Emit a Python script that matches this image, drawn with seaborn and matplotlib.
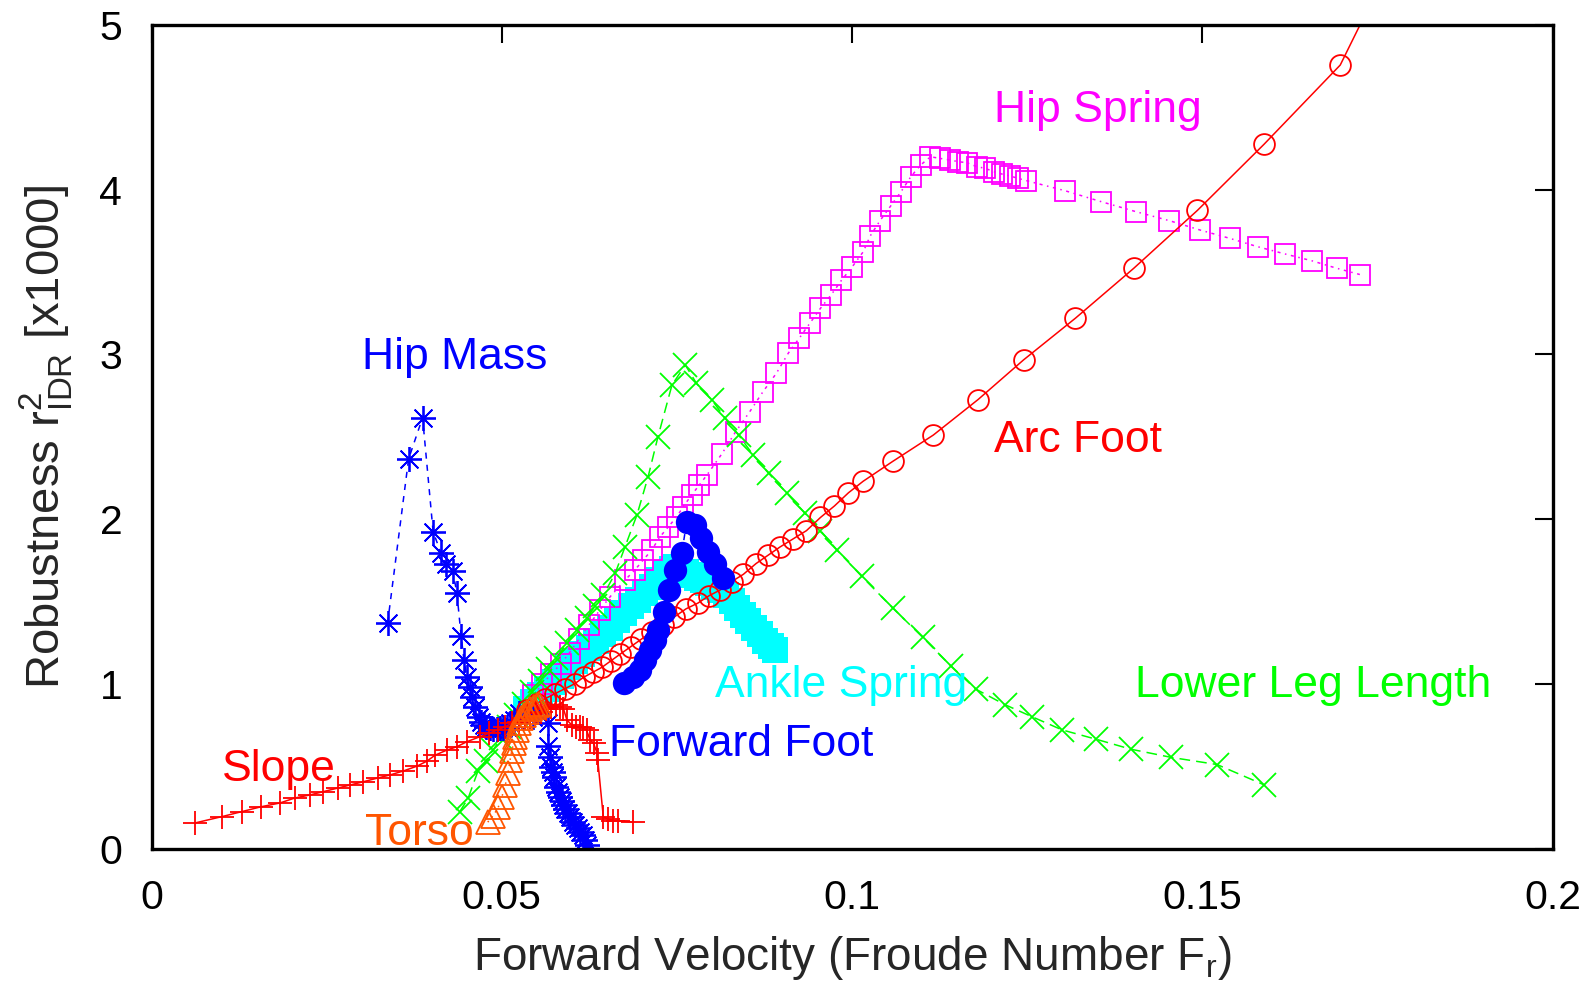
import matplotlib
matplotlib.use("Agg")
import matplotlib.pyplot as plt
import seaborn as sns

# ---- data ----
# Hip Spring (magenta open squares)
hs_x = [0.0545, 0.0558, 0.0571, 0.0584, 0.0597, 0.0610, 0.0625, 0.0640, 0.0655, 0.0676,
        0.0690, 0.0702, 0.0714, 0.0726, 0.0738, 0.0750, 0.0759, 0.0771, 0.0782, 0.0793,
        0.0814, 0.0834, 0.0854, 0.0873, 0.0892, 0.0909, 0.0925, 0.0940, 0.0955, 0.0970,
        0.0985, 0.1000, 0.1016, 0.1026, 0.1040, 0.1055, 0.1070, 0.1084, 0.1098, 0.1112,
        0.1126, 0.1140, 0.1152, 0.1164, 0.1178, 0.1190, 0.1202, 0.1214, 0.1226, 0.1237,
        0.1249, 0.1304, 0.1356, 0.1405, 0.1453, 0.1497, 0.1539, 0.1579, 0.1618, 0.1656,
        0.1692, 0.1725]
hs_y = [0.93, 1.00, 1.06, 1.12, 1.19, 1.27, 1.36, 1.448, 1.53, 1.63,
        1.691, 1.752, 1.812, 1.893, 1.954, 2.015, 2.075, 2.146, 2.207, 2.268,
        2.395, 2.531, 2.652, 2.774, 2.885, 3.007, 3.10, 3.19, 3.28, 3.36,
        3.45, 3.53, 3.623, 3.719, 3.812, 3.90, 3.988, 4.079, 4.15, 4.20,
        4.19, 4.18, 4.17, 4.164, 4.14, 4.13, 4.11, 4.095, 4.083, 4.069,
        4.055, 3.994, 3.927, 3.867, 3.812, 3.755, 3.705, 3.654, 3.61, 3.569,
        3.523, 3.485]

# Lower Leg Length (green crosses)
ll_x = [0.0440, 0.0452, 0.0466, 0.0477, 0.0488, 0.0499, 0.0510, 0.0521, 0.0532, 0.0543,
        0.0555, 0.0566, 0.0578, 0.0593, 0.0607, 0.0621, 0.0633, 0.0645, 0.0662, 0.0676,
        0.0693, 0.0709, 0.0723, 0.0743, 0.0762, 0.0778, 0.0800, 0.0819, 0.0838, 0.0859,
        0.0881, 0.0907, 0.0933, 0.0955, 0.0979, 0.1014, 0.1058, 0.1101, 0.1141, 0.1177,
        0.1218, 0.1257, 0.1300, 0.1348, 0.1398, 0.1456, 0.1521, 0.1588]
ll_y = [0.223, 0.305, 0.47, 0.53, 0.60, 0.67, 0.74, 0.81, 0.88, 0.95,
        1.02, 1.09, 1.155, 1.246, 1.327, 1.398, 1.47, 1.539, 1.671, 1.832,
        2.025, 2.258, 2.50, 2.814, 2.936, 2.824, 2.723, 2.612, 2.511, 2.389,
        2.278, 2.157, 2.035, 1.93, 1.81, 1.652, 1.461, 1.282, 1.109, 0.967,
        0.874, 0.80, 0.72, 0.664, 0.603, 0.553, 0.51, 0.387]

# Ankle Spring (cyan filled squares)
as_x = [0.0535, 0.0545, 0.0555, 0.0565, 0.0575, 0.0585, 0.0595, 0.0605, 0.0615, 0.0625,
        0.0635, 0.0645, 0.0655, 0.0665, 0.0675, 0.0685, 0.0695, 0.0705, 0.0715, 0.0725,
        0.0735, 0.0743, 0.0749, 0.0755, 0.0763, 0.0771, 0.0779, 0.0787, 0.0795, 0.0803,
        0.0812, 0.0820, 0.0828, 0.0836, 0.0844, 0.0852, 0.0860, 0.0868, 0.0876, 0.0884,
        0.0890]
as_y = [0.85, 0.89, 0.93, 0.97, 1.01, 1.05, 1.10, 1.14, 1.18, 1.22,
        1.26, 1.30, 1.34, 1.39, 1.43, 1.47, 1.51, 1.55, 1.59, 1.63,
        1.67, 1.70, 1.71, 1.69, 1.68, 1.66, 1.645, 1.63, 1.61, 1.59,
        1.57, 1.54, 1.50, 1.46, 1.42, 1.38, 1.34, 1.30, 1.26, 1.23,
        1.205]

# Hip Mass (blue asterisks)
hm_x = [0.0337, 0.0367, 0.0387, 0.0402, 0.0413, 0.0421, 0.0430, 0.0436, 0.0442, 0.0446,
        0.0450, 0.0454, 0.0457, 0.0462, 0.0467, 0.0471, 0.0474, 0.0478, 0.0483, 0.0488,
        0.0493, 0.0497, 0.0502, 0.0507, 0.0512, 0.0517, 0.0524, 0.0545, 0.0566, 0.0566,
        0.0569, 0.0571, 0.0573, 0.0575, 0.0578, 0.0580, 0.0583, 0.0586, 0.0588, 0.0591,
        0.0595, 0.0598, 0.0602, 0.0605, 0.0609, 0.0612, 0.0616, 0.0619, 0.0622]
hm_y = [1.367, 2.365, 2.616, 1.924, 1.796, 1.727, 1.687, 1.549, 1.29, 1.145,
        1.043, 0.98, 0.92, 0.86, 0.80, 0.77, 0.75, 0.74, 0.73, 0.725,
        0.725, 0.73, 0.73, 0.74, 0.76, 0.78, 0.82, 0.80, 0.76, 0.62,
        0.557, 0.497, 0.465, 0.436, 0.375, 0.345, 0.314, 0.29, 0.264, 0.24,
        0.214, 0.19, 0.163, 0.143, 0.123, 0.10, 0.082, 0.05, 0.02]

# Arc Foot (red open circles)
af_x = [0.0536, 0.0550, 0.0562, 0.0576, 0.0590, 0.0604, 0.0617, 0.0630, 0.0643, 0.0656,
        0.0669, 0.0684, 0.0699, 0.0714, 0.0730, 0.0746, 0.0763, 0.0780, 0.0796, 0.0812,
        0.0828, 0.0845, 0.0863, 0.0880, 0.0897, 0.0916, 0.0935, 0.0955, 0.0975, 0.0995,
        0.1016, 0.1058, 0.1116, 0.1180, 0.1245, 0.1319, 0.1402, 0.1493, 0.1588, 0.1697,
        0.1760]
af_y = [0.84, 0.88, 0.91, 0.94, 0.97, 1.00, 1.04, 1.07, 1.10, 1.14,
        1.18, 1.225, 1.27, 1.315, 1.36, 1.405, 1.455, 1.49, 1.535, 1.57,
        1.62, 1.665, 1.73, 1.78, 1.83, 1.88, 1.93, 2.01, 2.08, 2.16,
        2.23, 2.35, 2.51, 2.726, 2.967, 3.22, 3.522, 3.874, 4.275, 4.757,
        5.3]

# Forward Foot (blue filled circles)
ff_x = [0.0674, 0.0688, 0.0697, 0.0705, 0.0712, 0.0719, 0.0723, 0.0731, 0.0739, 0.0747,
        0.0757, 0.0764, 0.0776, 0.0785, 0.0795, 0.0804, 0.0816]
ff_y = [1.003, 1.043, 1.084, 1.145, 1.205, 1.266, 1.327, 1.438, 1.57, 1.69,
        1.792, 1.984, 1.964, 1.883, 1.802, 1.73, 1.64]

# Slope (red plus)
sl_x = [0.0062, 0.0100, 0.0129, 0.0157, 0.0183, 0.0205, 0.0226, 0.0245, 0.0266, 0.0283,
        0.0302, 0.0323, 0.0340, 0.0359, 0.0379, 0.0393, 0.0405, 0.0422, 0.0436, 0.0450,
        0.0469, 0.0482, 0.0494, 0.0505, 0.0515, 0.0524, 0.0533, 0.0541, 0.0549, 0.0556,
        0.0563, 0.0570, 0.0577, 0.0583, 0.0588, 0.0593, 0.0600, 0.0606, 0.0612, 0.0616,
        0.0621, 0.0626, 0.0631, 0.0636, 0.0637, 0.0645, 0.0652, 0.0659, 0.0666, 0.0687]
sl_y = [0.155, 0.193, 0.224, 0.254, 0.276, 0.307, 0.325, 0.345, 0.367, 0.385,
        0.405, 0.428, 0.446, 0.47, 0.50, 0.53, 0.567, 0.598, 0.618, 0.648,
        0.679, 0.70, 0.72, 0.74, 0.76, 0.77, 0.79, 0.80, 0.82, 0.83,
        0.85, 0.86, 0.87, 0.86, 0.85, 0.78, 0.75, 0.74, 0.74, 0.73,
        0.72, 0.66, 0.64, 0.58, 0.54, 0.19, 0.18, 0.17, 0.17, 0.16]

# Torso (orange open triangles)
to_x = [0.0480, 0.0488, 0.0495, 0.0500, 0.0505, 0.0509, 0.0512, 0.0514, 0.0517, 0.0519,
        0.0522, 0.0525, 0.0528, 0.0532, 0.0536, 0.0541, 0.0546, 0.0550, 0.0553]
to_y = [0.16, 0.20, 0.25, 0.31, 0.385, 0.46, 0.54, 0.59, 0.64, 0.68,
        0.72, 0.76, 0.79, 0.81, 0.83, 0.85, 0.86, 0.87, 0.88]

# label text, colour, position (data coords)
labels = ["Hip Spring", "Hip Mass", "Arc Foot", "Ankle Spring",
          "Lower Leg Length", "Forward Foot", "Slope", "Torso"]
label_colors = ["#ff00ff", "#0000ff", "#ff0000", "#00ffff",
                "#00ff00", "#0000ff", "#ff0000", "#ff5500"]
label_pos = [(0.1351, 4.48), (0.0433, 2.98), (0.1323, 2.48), (0.0984, 0.99),
             (0.1658, 0.99), (0.0842, 0.63), (0.0182, 0.48), (0.0382, 0.09)]

xticks = [0, 0.05, 0.1, 0.15, 0.2]
xtick_labels = ["0", "0.05", "0.1", "0.15", "0.2"]
yticks = [0, 1, 2, 3, 4, 5]

# ---- style ----
sns.set_style("white")
plt.rcParams['font.family'] = ['Liberation Sans', 'DejaVu Sans']
plt.rcParams['mathtext.fontset'] = 'custom'
plt.rcParams['mathtext.rm'] = 'Liberation Sans'
plt.rcParams['mathtext.it'] = 'Liberation Sans:italic'

W, H = 1594, 985
fig = plt.figure(figsize=(W / 100, H / 100), dpi=100)
ax = fig.add_axes([151.5 / W, 1 - 848.5 / H, 1401 / W, 823.5 / H])

MS = 17     # marker size (pt) ~ 23 px
LW = 1.1


def series(x, y, color, marker, ls, mfc="none", ms=MS, mew=1.3):
    sns.lineplot(x=x, y=y, ax=ax, sort=False, estimator=None,
                 color=color, linestyle=ls, linewidth=LW,
                 marker=marker, markersize=ms, markeredgewidth=mew,
                 markeredgecolor=color, markerfacecolor=mfc)


series(hs_x, hs_y, "#ff00ff", "s", (0, (2, 3, 1, 3)), ms=15)
series(ll_x, ll_y, "#00ff00", "x", (0, (7, 4)))
sns.scatterplot(x=as_x, y=as_y, ax=ax, marker="s", s=18.5 ** 2,
                color="#00ffff", linewidth=0)
series(hm_x, hm_y, "#0000ff", (8, 2, 0), (0, (4, 4)), ms=18)
series(af_x, af_y, "#ff0000", "o", "-", ms=15)
series(ff_x, ff_y, "#0000ff", "o", (0, (4, 4)), mfc="#0000ff", ms=15.5)
series(sl_x, sl_y, "#ff0000", "+", "-")
series(to_x, to_y, "#ff5500", "^", (0, (1, 3)))

for txt, c, (px, py) in zip(labels, label_colors, label_pos):
    ax.text(px, py, txt, color=c, fontsize=32, ha="center", va="center")

ax.set_xlim(0, 0.2)
ax.set_ylim(0, 5)
ax.set_xticks(xticks)
ax.set_xticklabels(xtick_labels)
ax.set_yticks(yticks)
ax.tick_params(direction="in", length=13, width=1.5, top=True, right=True,
               labelsize=29.5, colors="black")
ax.tick_params(axis="x", pad=22)
ax.tick_params(axis="y", pad=21)
for sp in ax.spines.values():
    sp.set_visible(True)
    sp.set_color("black")
    sp.set_linewidth(2.4)

ax.set_xlabel(r"Forward Velocity (Froude Number F$_{\mathrm{r}}$)", fontsize=33,
              va="center")
ax.xaxis.set_label_coords(0.5, (848.5 - 958) / 823.5)
ax.set_ylabel(r"Robustness r$_{\mathrm{IDR}}^{\mathrm{2}}$ [x1000]", fontsize=34,
              va="center", ha="center")
ax.yaxis.set_label_coords((46 - 151.5) / 1401, 0.5)

fig.savefig("out.png", dpi=100)
